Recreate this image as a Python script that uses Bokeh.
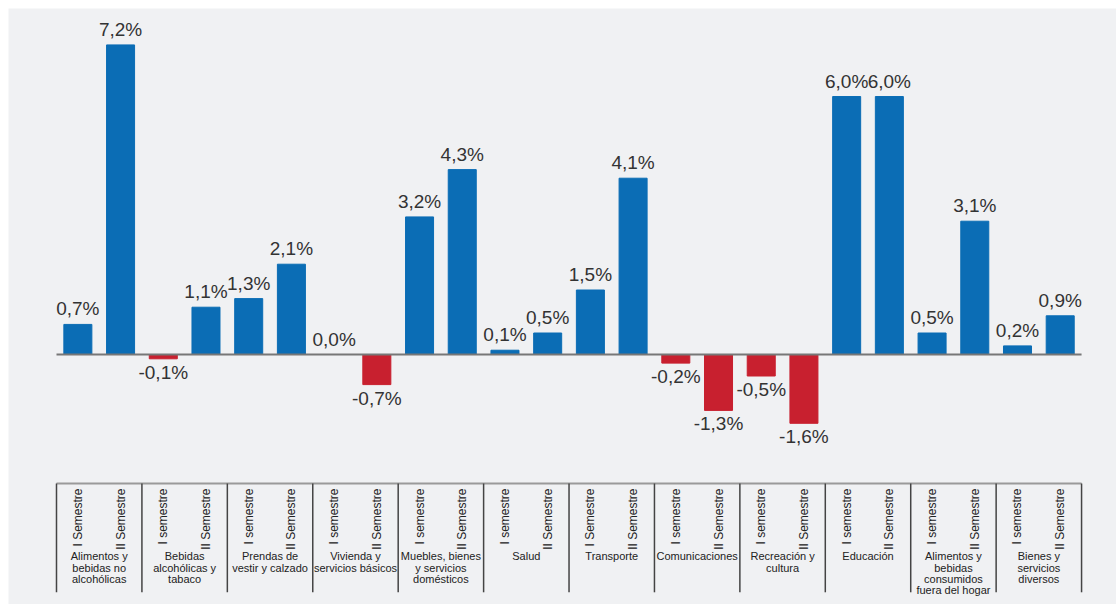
import numpy as np
from bokeh.plotting import figure
from bokeh.models import Range1d, ColumnDataSource
from bokeh.core.properties import value
from bokeh.embed import file_html
from bokeh.resources import INLINE

categories = [
    "Alimentos y\nbebidas no\nalcohólicas",
    "Bebidas\nalcohólicas y\ntabaco",
    "Prendas de\nvestir y calzado",
    "Vivienda y\nservicios básicos",
    "Muebles, bienes\ny servicios\ndomésticos",
    "Salud",
    "Transporte",
    "Comunicaciones",
    "Recreación y\ncultura",
    "Educación",
    "Alimentos y\nbebidas\nconsumidos\nfuera del hogar",
    "Bienes y\nservicios\ndiversos",
]
sem1_labels = ["I Semestre", "I semestre", "I semestre", "I semestre", "I semestre", "I semestre",
               "I Semestre", "I semestre", "I semestre", "I semestre", "I semestre", "I semestre"]
sem2_labels = ["II Semestre"] * 12
sem1 = [0.7, -0.1, 1.3, 0.0, 3.2, 0.1, 1.5, -0.2, -0.5, 6.0, 0.5, 0.2]
sem2 = [7.2, 1.1, 2.1, -0.7, 4.3, 0.5, 4.1, -1.3, -1.6, 6.0, 3.1, 0.9]

BLUE = "#0b6db5"
RED = "#c8202f"
BG = "#f0f1f3"
FONT = value("Liberation Sans")

n = len(categories)
idx = np.arange(n)
xs = np.concatenate([idx + 0.25, idx + 0.75])
vals = np.array(sem1 + sem2)
colors = [BLUE if v >= 0 else RED for v in vals]
labels = [("%.1f" % v).replace(".", ",") + "%" for v in vals]

p = figure(width=1116, height=604,
           x_range=Range1d(-0.5619, 12.409), y_range=Range1d(-5.814, 8.047),
           output_backend="svg", toolbar_location=None, min_border=0,
           min_border_left=8, min_border_top=8,
           x_axis_location=None, y_axis_location=None)
p.grid.visible = False
p.outline_line_color = None
p.background_fill_color = BG
p.border_fill_color = "white"

src = ColumnDataSource(dict(x=xs, top=vals, color=colors, label=labels))
p.vbar(x="x", top="top", bottom=0, width=0.328, color="color", source=src)

# zero line
p.segment(x0=[0], y0=[0], x1=[n], y1=[0], line_color="#777777", line_width=2)

pos = vals >= 0
neg = ~pos
p.text(x=xs[pos], y=vals[pos], text=np.array(labels)[pos], text_align="center",
       text_baseline="bottom", y_offset=-5, text_font=FONT, text_font_size="19px",
       text_color="#333333")
p.text(x=xs[neg], y=vals[neg], text=np.array(labels)[neg], text_align="center",
       text_baseline="top", y_offset=3, text_font=FONT, text_font_size="19px",
       text_color="#333333")

# table below
TOP = -3.0
BOT = -5.53
p.segment(x0=[0], y0=[TOP], x1=[n], y1=[TOP], line_color="#9a9a9a", line_width=2)
p.segment(x0=np.arange(n + 1), y0=[TOP] * (n + 1), x1=np.arange(n + 1), y1=[BOT] * (n + 1),
          line_color="#444444", line_width=1.5)

p.text(x=idx + 0.25, y=[-3.116] * n, text=sem1_labels, angle=np.pi / 2, text_align="right",
       text_baseline="middle", text_font=FONT, text_font_size="12px", text_color="#222222")
p.text(x=idx + 0.75, y=[-3.116] * n, text=sem2_labels, angle=np.pi / 2, text_align="right",
       text_baseline="middle", text_font=FONT, text_font_size="12px", text_color="#222222")

p.text(x=idx + 0.5, y=[-4.55] * n, text=categories, text_align="center", text_baseline="top",
       text_font=FONT, text_font_size="11px", text_color="#222222", text_line_height=0.95)

open("out.html", "w").write(file_html(p, INLINE))
